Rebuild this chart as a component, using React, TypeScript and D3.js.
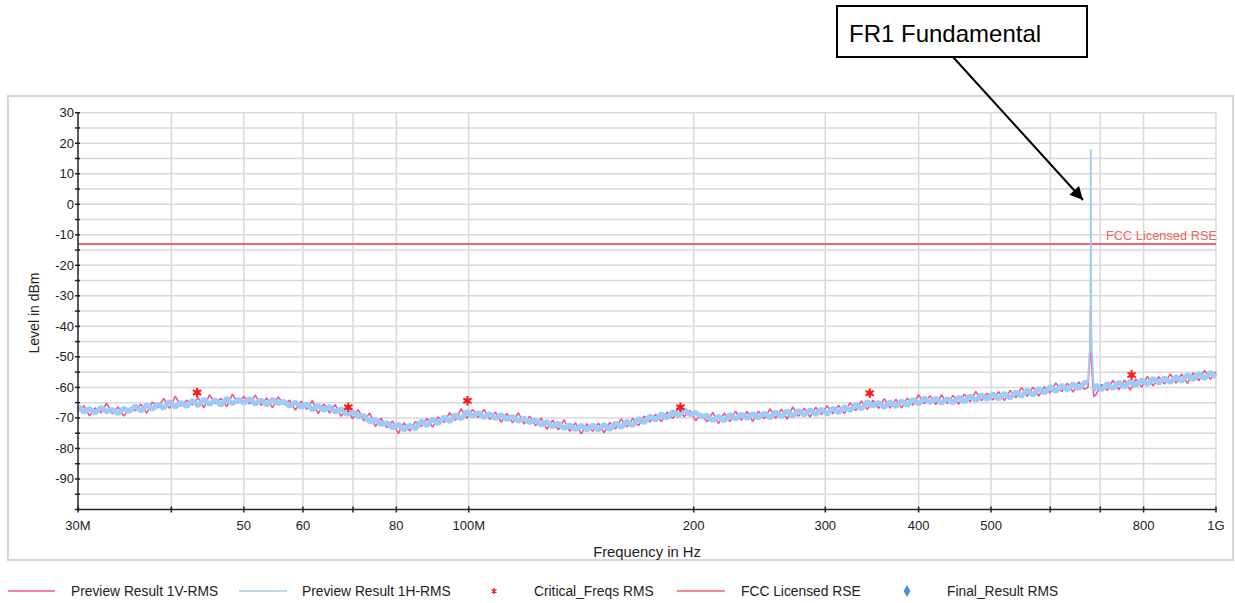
import React from "react";
import * as d3 from "d3";

const W = 1235;
const H = 603;
const FONT = "Arial, 'Liberation Sans', sans-serif";

// sweep: 30 MHz .. 1 GHz, log spaced points
const START_HZ = 30e6;
const STOP_HZ = 1e9;

// axis ticks
const xTicksMHz = [30, 40, 50, 60, 70, 80, 100, 200, 300, 400, 500, 600, 700, 800, 1000];
const xTickLabels = ["30M", "", "50", "60", "", "80", "100M", "200", "300", "400", "500", "", "", "800", "1G"];
const yMajor = [30, 20, 10, 0, -10, -20, -30, -40, -50, -60, -70, -80, -90];
const yMinor = [25, 15, 5, -5, -15, -25, -35, -45, -55, -65, -75, -85, -95, -100];

// Preview Result 1H-RMS (dBm), one value per sweep point
const levelH = [
  -66.2, -68.1, -66.9, -68.4, -66.5, -68.0, -67.2, -68.6, -66.8, -67.9,
  -66.0, -67.8, -65.7, -67.2, -65.4, -66.9, -64.6, -66.5, -64.9, -66.3,
  -64.2, -66.1, -63.8, -65.6, -64.0, -65.9, -63.5, -65.4, -63.9, -65.2,
  -63.6, -65.5, -64.1, -65.8, -63.9, -65.3, -64.6, -66.2, -64.8, -66.6,
  -65.3, -67.4, -65.9, -67.6, -66.2, -68.1, -67.0, -68.9, -67.8, -69.6,
  -69.2, -71.3, -70.4, -72.2, -71.5, -73.4, -72.0, -74.1, -72.3, -73.6,
  -71.0, -72.6, -70.3, -71.9, -69.6, -71.2, -68.9, -70.4, -67.8, -69.5,
  -68.2, -69.9, -68.6, -70.3, -68.9, -70.6, -69.5, -71.1, -70.0, -71.6,
  -70.6, -72.4, -71.2, -72.9, -71.7, -73.5, -72.2, -73.9, -72.4, -74.0,
  -72.3, -74.0, -72.1, -73.8, -71.6, -73.2, -71.0, -72.6, -70.1, -71.6,
  -69.3, -70.8, -68.6, -70.1, -67.9, -69.4, -67.3, -68.9, -68.2, -69.7,
  -69.1, -70.9, -69.4, -71.0, -68.8, -70.5, -68.7, -70.2, -68.5, -70.1,
  -68.3, -70.0, -68.0, -69.7, -67.6, -69.5, -67.5, -69.1, -67.3, -68.9,
  -67.1, -68.8, -66.7, -68.3, -66.2, -67.7, -65.6, -67.2, -64.6, -66.1,
  -64.9, -66.6, -64.7, -66.3, -64.4, -65.9, -63.9, -65.5, -63.4, -65.0,
  -63.5, -65.2, -63.6, -65.1, -63.1, -64.8, -62.7, -64.3, -62.4, -64.0,
  -62.1, -63.9, -61.9, -63.5, -61.4, -63.0, -60.8, -62.5, -60.3, -61.9,
  -59.7, -61.4, -59.3, -60.9, -58.8, -60.5, -58.4, -60.1, -59.2, -60.8,
  -58.7, -60.4, -58.3, -60.0, -57.9, -59.5, -57.5, -59.1, -57.0, -58.7,
  -56.8, -58.4, -56.4, -58.0, -55.8, -57.5, -55.4, -57.1, -55.0, -56.7,
];

// Preview Result 1V-RMS (dBm)
const levelV = [
  -67.9, -66.0, -69.3, -66.7, -68.3, -65.2, -68.6, -66.4, -69.4, -66.8,
  -67.6, -65.5, -68.4, -64.8, -66.7, -63.6, -66.9, -62.9, -66.1, -64.2,
  -65.7, -63.4, -66.6, -62.4, -65.3, -63.6, -66.3, -62.2, -65.1, -63.0,
  -65.4, -62.5, -65.9, -63.5, -66.6, -63.1, -65.6, -64.2, -67.4, -64.5,
  -67.2, -64.3, -68.6, -65.4, -68.4, -65.6, -69.5, -66.6, -70.3, -67.3,
  -71.0, -68.4, -72.8, -70.1, -73.2, -71.0, -75.1, -71.6, -74.3, -71.2,
  -72.8, -70.2, -73.0, -69.7, -71.5, -68.3, -70.8, -67.0, -70.1, -67.2,
  -69.9, -67.2, -70.5, -68.1, -71.4, -68.5, -71.6, -68.3, -72.0, -69.4,
  -72.6, -70.1, -73.7, -70.7, -73.9, -70.6, -74.4, -71.6, -75.2, -71.9,
  -74.4, -71.7, -74.8, -71.5, -73.6, -70.3, -73.0, -70.2, -72.6, -69.4,
  -71.3, -68.8, -71.2, -68.1, -70.2, -66.6, -69.6, -67.5, -70.9, -68.6,
  -71.3, -68.2, -71.9, -68.4, -71.2, -67.8, -70.8, -67.9, -71.1, -67.8,
  -70.3, -67.0, -70.1, -67.1, -70.4, -66.4, -69.5, -66.8, -69.7, -66.5,
  -69.0, -66.0, -68.6, -65.9, -68.6, -65.0, -67.6, -64.4, -67.2, -64.2,
  -66.9, -63.7, -66.8, -63.9, -66.7, -63.5, -65.8, -62.4, -65.4, -62.7,
  -65.6, -62.5, -65.3, -62.6, -65.5, -62.2, -64.7, -61.3, -64.4, -61.9,
  -64.1, -61.4, -64.3, -61.0, -63.4, -60.0, -62.9, -59.9, -62.8, -59.8,
  -61.8, -58.5, -61.4, -58.6, -61.5, -58.2, -60.6, -57.9, -62.4, -59.0,
  -61.0, -57.6, -60.8, -57.6, -60.9, -57.2, -59.9, -56.4, -59.5, -56.5,
  -58.9, -55.6, -58.6, -55.6, -58.7, -55.2, -57.8, -54.4, -57.3, -54.9,
];

// FR1 fundamental carrier, finer resolution around 680 MHz
const fundFreqsMHz = [674, 677, 678.5, 679.5, 680, 680.5, 681.5, 683, 686];
const fundH = [-58.5, -49, -48, -36, 18, -35, -48, -50, -61];
const fundV = [-60, -52, -49, -34, -33.5, -36, -52, -56, -63];

// Critical_Freqs RMS markers
const critFreqsMHz = [43.3, 69.0, 99.6, 192, 344, 771];
const critLevels = [-61.7, -66.5, -64.4, -66.5, -61.9, -55.9];

const FCC_LIMIT = -13;

const PINK = "#f4538a";
const BLUE = "#9ccbf7";
const LIMIT_RED = "#f26464";
const STAR_RED = "#ff1a1a";
const DIAMOND_BLUE = "#4a90d9";

type Pt = { f: number; v: number };

function buildTrace(levels: number[], fund: number[]): Pt[] {
  const n = levels.length;
  const pts = levels.map((v, i) => ({
    f: START_HZ * Math.pow(STOP_HZ / START_HZ, i / (n - 1)),
    v,
  }));
  const lo = fundFreqsMHz[0] * 1e6;
  const hi = fundFreqsMHz[fundFreqsMHz.length - 1] * 1e6;
  const kept = pts.filter((p) => p.f < lo || p.f > hi);
  const extra = fundFreqsMHz.map((f, i) => ({ f: f * 1e6, v: fund[i] }));
  return kept.concat(extra).sort((a, b) => a.f - b.f);
}

export default function App() {
  const x = d3.scaleLog().domain([START_HZ, STOP_HZ]).range([78, 1216]);
  const y = d3.scaleLinear().domain([-100, 30]).range([509.5, 112.7]);

  const line = d3
    .line<Pt>()
    .x((d) => x(d.f))
    .y((d) => y(d.v));

  const traceV = buildTrace(levelV, fundV);
  const traceH = buildTrace(levelH, fundH);

  // split the H trace: broadband noise (thick) and the carrier (thin)
  const lo = fundFreqsMHz[0] * 1e6;
  const hi = fundFreqsMHz[fundFreqsMHz.length - 1] * 1e6;
  const hBelow = traceH.filter((p) => p.f <= lo);
  const hAbove = traceH.filter((p) => p.f >= hi);
  const hCarrier = traceH.filter((p) => p.f >= lo && p.f <= hi);

  const star = d3.symbol(d3.symbolAsterisk, 64)();
  const diamond = d3.symbol(d3.symbolDiamond, 40)();

  const x0 = x.range()[0];
  const x1 = x.range()[1];
  const yTop = y(30);
  const yBot = y(-100);

  return (
    <svg
      width={W}
      height={H}
      style={{ position: "absolute", left: 0, top: 0, background: "#fff" }}
      fontFamily={FONT}
    >
      {/* outer frame */}
      <rect x={8} y={96} width={1225} height={464} fill="#fff" stroke="#d6d6d6" strokeWidth={2} />

      {/* grid */}
      <g stroke="#d9d9d9" strokeWidth={1.5}>
        {yMajor.concat(yMinor.filter((t) => t > -100)).map((t) => (
          <line key={"h" + t} x1={x0} x2={x1} y1={y(t)} y2={y(t)} />
        ))}
        {xTicksMHz.slice(1).map((t) => (
          <line key={"v" + t} x1={x(t * 1e6)} x2={x(t * 1e6)} y1={yTop} y2={yBot} />
        ))}
      </g>

      {/* FCC limit */}
      <line x1={x0} x2={x1} y1={y(FCC_LIMIT)} y2={y(FCC_LIMIT)} stroke={LIMIT_RED} strokeWidth={2} />
      <text x={1106} y={y(FCC_LIMIT) - 4} fontSize={12.8} fill={LIMIT_RED}>
        FCC Licensed RSE
      </text>

      {/* traces */}
      <path d={line(traceV) || ""} fill="none" stroke={PINK} strokeWidth={1.6} strokeLinejoin="bevel" />
      <g fill="none" stroke={BLUE} strokeLinejoin="bevel">
        <path d={line(hBelow) || ""} strokeWidth={5} />
        <path d={line(hAbove) || ""} strokeWidth={5} />
        <path d={line(hCarrier) || ""} strokeWidth={1.8} />
      </g>

      {/* critical freqs */}
      {critFreqsMHz.map((f, i) => (
        <g key={"c" + i} transform={`translate(${x(f * 1e6)},${y(critLevels[i])})`}>
          <path d={star || ""} fill="none" stroke={STAR_RED} strokeWidth={2} />
          <circle r={2.6} fill={STAR_RED} />
        </g>
      ))}

      {/* axes */}
      <g stroke="#222" strokeWidth={1.5}>
        <line x1={x0} x2={x0} y1={yTop} y2={yBot} />
        <line x1={x0} x2={x1} y1={yBot} y2={yBot} />
        {yMajor.concat(yMinor).map((t) => (
          <line key={"yt" + t} x1={x0 - 3} x2={x0 + 2} y1={y(t)} y2={y(t)} />
        ))}
        {xTicksMHz.map((t) => (
          <line key={"xt" + t} x1={x(t * 1e6)} x2={x(t * 1e6)} y1={yBot - 3} y2={yBot + 3} />
        ))}
      </g>

      <g fontSize={13} fill="#222">
        {yMajor.map((t) => (
          <text key={"yl" + t} x={x0 - 4} y={y(t) + 4.5} textAnchor="end">
            {t}
          </text>
        ))}
        {xTicksMHz.map((t, i) =>
          xTickLabels[i] ? (
            <text key={"xl" + t} x={x(t * 1e6)} y={530} textAnchor="middle">
              {xTickLabels[i]}
            </text>
          ) : null
        )}
      </g>
      <g fontSize={14.8} fill="#222">
        <text x={647} y={557} textAnchor="middle">
          Frequency in Hz
        </text>
        <text transform="translate(39,313) rotate(-90)" textAnchor="middle" fontSize={14}>
          Level in dBm
        </text>
      </g>

      {/* legend */}
      <g fontSize={13.8} fill="#222">
        <line x1={8} x2={55} y1={591} y2={591} stroke={PINK} strokeWidth={1.5} />
        <text x={71} y={596}>Preview Result 1V-RMS</text>
        <line x1={239} x2={287} y1={591} y2={591} stroke={BLUE} strokeWidth={1.5} />
        <text x={302} y={596}>Preview Result 1H-RMS</text>
        <g transform="translate(494,591)">
          <path d={d3.symbol(d3.symbolAsterisk, 24)() || ""} fill="none" stroke={STAR_RED} strokeWidth={1.3} />
          <circle r={1.3} fill={STAR_RED} />
        </g>
        <text x={534} y={596}>Critical_Freqs RMS</text>
        <line x1={677} x2={725} y1={591} y2={591} stroke={LIMIT_RED} strokeWidth={1.5} />
        <text x={741} y={596}>FCC Licensed RSE</text>
        <path d={diamond || ""} transform="translate(907,591)" fill={DIAMOND_BLUE} />
        <text x={947} y={596}>Final_Result RMS</text>
      </g>

      {/* annotation */}
      <defs>
        <marker
          id="arrowHead"
          viewBox="0 0 10 10"
          refX={10}
          refY={5}
          markerWidth={17}
          markerHeight={13}
          orient="auto"
          markerUnits="userSpaceOnUse"
        >
          <path d="M0,0 L10,5 L0,10 z" fill="#000" />
        </marker>
      </defs>
      <line x1={953} y1={57} x2={1083} y2={200} stroke="#000" strokeWidth={2} markerEnd="url(#arrowHead)" />
      <rect x={837} y={6} width={250} height={51} fill="#fff" stroke="#000" strokeWidth={2} />
      <text x={849} y={42} fontSize={24} fill="#000">
        FR1 Fundamental
      </text>
    </svg>
  );
}
